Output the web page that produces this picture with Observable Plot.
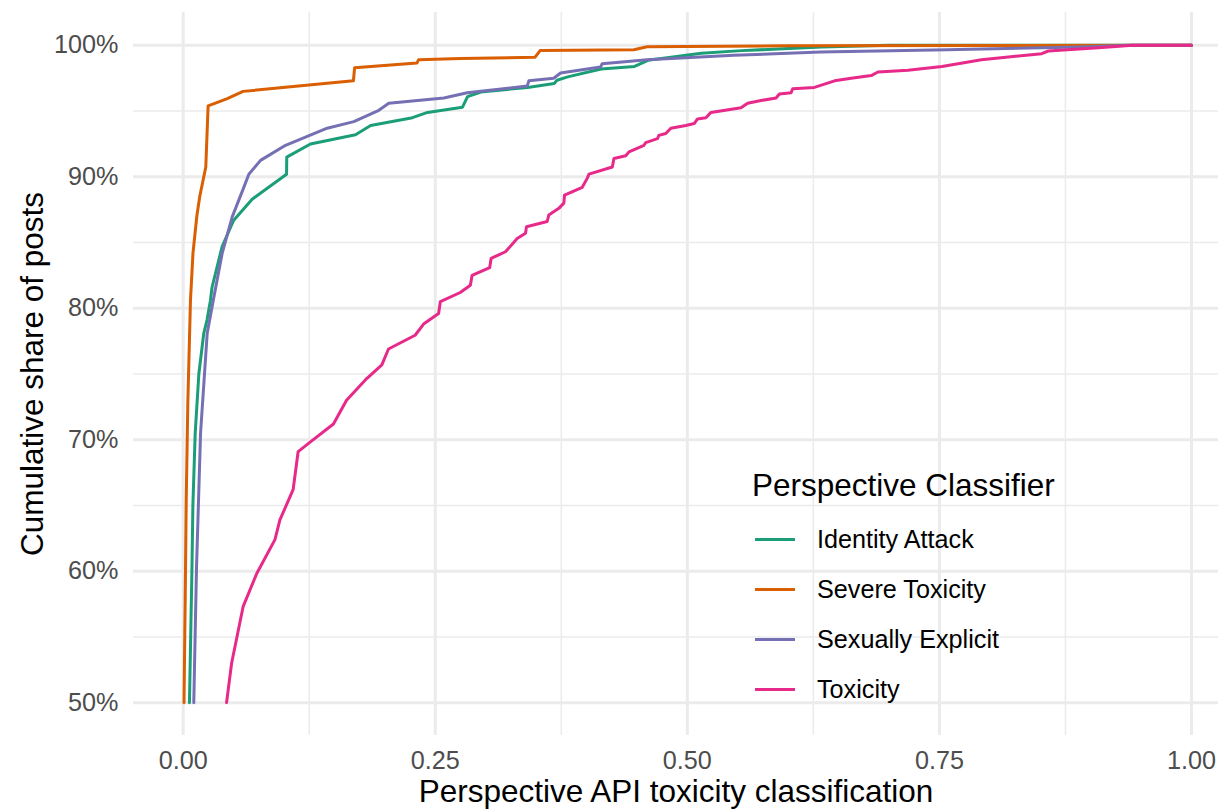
<!DOCTYPE html>
<html>
<head>
<meta charset="utf-8">
<script src="https://cdn.jsdelivr.net/npm/d3@7"></script>
<script src="https://cdn.jsdelivr.net/npm/@observablehq/plot@0.6"></script>
<style>
  body { margin: 0; background: #fff; font-family: "Liberation Sans", Arial, sans-serif; }
  #wrap { position: relative; width: 1218px; height: 809px; overflow: hidden; }
  #legend { position: absolute; left: 752px; top: 466px; color: #000; }
  #legend .title { font-size: 31.5px; line-height: 38px; height: 38px; margin-bottom: 10px; white-space: nowrap; }
  #legend .item { display: flex; align-items: center; height: 50px; }
  #legend .key { width: 40px; height: 3px; margin-left: 3px; }
  #legend .lab { font-size: 25.2px; margin-left: 22px; white-space: nowrap; }
</style>
</head>
<body>
<div id="wrap">
  <div id="myplot"></div>
  <div id="legend"></div>
</div>
<script>
// series: [toxicity score, cumulative % of posts]
const classifiers = ["Identity Attack", "Severe Toxicity", "Sexually Explicit", "Toxicity"];
const palette = ["#1B9E77", "#D95F02", "#7570B3", "#E7298A"];

const identityAttack = [
  [0.0062, 50], [0.0087, 60.3], [0.0096, 65], [0.0119, 70.5], [0.0155, 75], [0.0204, 78.1],
  [0.0236, 79.1], [0.027, 80.6], [0.0286, 81.6], [0.0386, 84.7], [0.0501, 86.7], [0.0684, 88.3],
  [0.1025, 90.2], [0.1027, 91.5], [0.1262, 92.5], [0.1709, 93.2], [0.1859, 93.9], [0.2274, 94.5],
  [0.2423, 94.9], [0.277, 95.3], [0.282, 96.1], [0.2952, 96.45], [0.3416, 96.8], [0.368, 97.1],
  [0.3707, 97.35], [0.3813, 97.6], [0.4145, 98.2], [0.4476, 98.4], [0.461, 98.86], [0.5139, 99.4],
  [0.5537, 99.6], [0.6332, 99.87], [0.7, 100], [1.0, 100]
];
const severeToxicity = [
  [0.0008, 50], [0.002, 58], [0.003, 65.4], [0.0046, 72.9], [0.0072, 80.6], [0.0097, 84.2],
  [0.0135, 87], [0.0164, 88.5], [0.0224, 90.75], [0.0247, 95.4], [0.0437, 95.95], [0.0594, 96.5],
  [0.1688, 97.3], [0.170, 98.3], [0.2318, 98.65], [0.2334, 98.9], [0.275, 99.0], [0.349, 99.1],
  [0.354, 99.6], [0.447, 99.67], [0.460, 99.9], [0.6, 99.97], [1.0, 100]
];
const sexuallyExplicit = [
  [0.0105, 50], [0.0132, 60.3], [0.0172, 70.5], [0.0238, 78.1], [0.0298, 80.6], [0.0387, 84.2],
  [0.0486, 86.95], [0.0601, 89.2], [0.0651, 90.2], [0.0767, 91.25], [0.1015, 92.4], [0.1428, 93.7],
  [0.1692, 94.2], [0.194, 95.06], [0.2039, 95.6], [0.2585, 96.0], [0.2817, 96.4], [0.3412, 96.9],
  [0.3428, 97.3], [0.3675, 97.5], [0.3742, 97.9], [0.4139, 98.35], [0.4155, 98.6], [0.4602, 98.9],
  [0.5461, 99.24], [0.6321, 99.5], [0.7577, 99.67], [0.8899, 99.87], [0.9395, 100], [1.0, 100]
];
const toxicity = [
  [0.043, 50], [0.048, 53], [0.0594, 57.3], [0.0728, 59.8], [0.091, 62.4], [0.0959, 63.9],
  [0.109, 66.2], [0.114, 69.1], [0.124, 69.7], [0.149, 71.2], [0.162, 73.0], [0.182, 74.65],
  [0.197, 75.7], [0.2036, 76.9], [0.230, 77.95], [0.2384, 78.8], [0.2533, 79.6], [0.255, 80.5],
  [0.2748, 81.2], [0.2848, 81.75], [0.2865, 82.5], [0.304, 83.1], [0.3054, 83.8], [0.3196, 84.3],
  [0.3312, 85.3], [0.3395, 85.7], [0.3405, 86.2], [0.361, 86.6], [0.3626, 87.1], [0.3726, 87.6],
  [0.3775, 88.0], [0.3782, 88.6], [0.3958, 89.2], [0.4008, 89.9], [0.4024, 90.2], [0.4256, 90.75],
  [0.4272, 91.4], [0.4389, 91.6], [0.4421, 91.9], [0.457, 92.4], [0.4587, 92.6], [0.4704, 92.9],
  [0.4717, 93.15], [0.4786, 93.3], [0.4836, 93.7], [0.4985, 93.9], [0.5068, 94.05], [0.5101, 94.4],
  [0.5184, 94.5], [0.5234, 94.9], [0.5532, 95.26], [0.5598, 95.6], [0.573, 95.8], [0.588, 96.0],
  [0.5913, 96.3], [0.6029, 96.4], [0.6045, 96.7], [0.626, 96.8], [0.646, 97.3], [0.6625, 97.5],
  [0.6824, 97.7], [0.689, 97.97], [0.7189, 98.1], [0.7525, 98.4], [0.7917, 98.9], [0.8514, 99.37],
  [0.858, 99.57], [0.9078, 99.82], [0.9414, 100], [1.0, 100]
];

const xMajor = [0, 0.25, 0.5, 0.75, 1];
const xMinor = [0.125, 0.375, 0.625, 0.875];
const yMajor = [50, 60, 70, 80, 90, 100];
const yMinor = [55, 65, 75, 85, 95];

const xTitle = "Perspective API toxicity classification";
const yTitle = "Cumulative share of posts";
const legendTitle = "Perspective Classifier";

// long table for Plot
const seriesPoints = [identityAttack, severeToxicity, sexuallyExplicit, toxicity];
const rows = seriesPoints.flatMap((pts, i) =>
  pts.map(([x, y]) => ({classifier: classifiers[i], x, y}))
);

const grid = "#EBEBEB";
const tickCol = "#4D4D4D";

const plot = Plot.plot({
  width: 1218,
  height: 809,
  marginLeft: 133,
  marginRight: 0,
  marginTop: 12,
  marginBottom: 74,
  style: {fontFamily: "'Liberation Sans', Arial, sans-serif", background: "white", overflow: "hidden"},
  x: {domain: [-0.0493, 1.0268]},
  y: {domain: [47.5, 102.5]},
  color: {domain: classifiers, range: palette},
  marks: [
    Plot.gridX(xMinor, {stroke: grid, strokeOpacity: 1, strokeWidth: 1.5}),
    Plot.gridY(yMinor, {stroke: grid, strokeOpacity: 1, strokeWidth: 1.5}),
    Plot.gridX(xMajor, {stroke: grid, strokeOpacity: 1, strokeWidth: 3}),
    Plot.gridY(yMajor, {stroke: grid, strokeOpacity: 1, strokeWidth: 3}),
    Plot.axisX(xMajor, {
      tickSize: 0, tickPadding: 16, fontSize: 25.2, color: tickCol,
      tickFormat: d3.format(".2f"), label: null
    }),
    Plot.axisY(yMajor, {
      tickSize: 0, tickPadding: 15, fontSize: 25.2, color: tickCol,
      tickFormat: d => d + "%", label: null
    }),
    Plot.line(rows, {x: "x", y: "y", z: "classifier", stroke: "classifier", strokeWidth: 3, strokeLinejoin: "round"}),
    Plot.text([xTitle], {text: d => d, frameAnchor: "bottom", lineAnchor: "bottom", dy: 66, fontSize: 31.5, fill: "black"}),
    Plot.text([yTitle], {text: d => d, frameAnchor: "left", textAnchor: "middle", rotate: -90, dx: -101, fontSize: 31.5, fill: "black"})
  ]
});

document.querySelector("#myplot").append(plot);

// legend drawn in html on top of the panel
const legend = d3.select("#legend");
legend.append("div").attr("class", "title").text(legendTitle);
classifiers.forEach((c, i) => {
  const item = legend.append("div").attr("class", "item");
  item.append("div").attr("class", "key").style("background", palette[i]);
  item.append("div").attr("class", "lab").text(c);
});
</script>
</body>
</html>
